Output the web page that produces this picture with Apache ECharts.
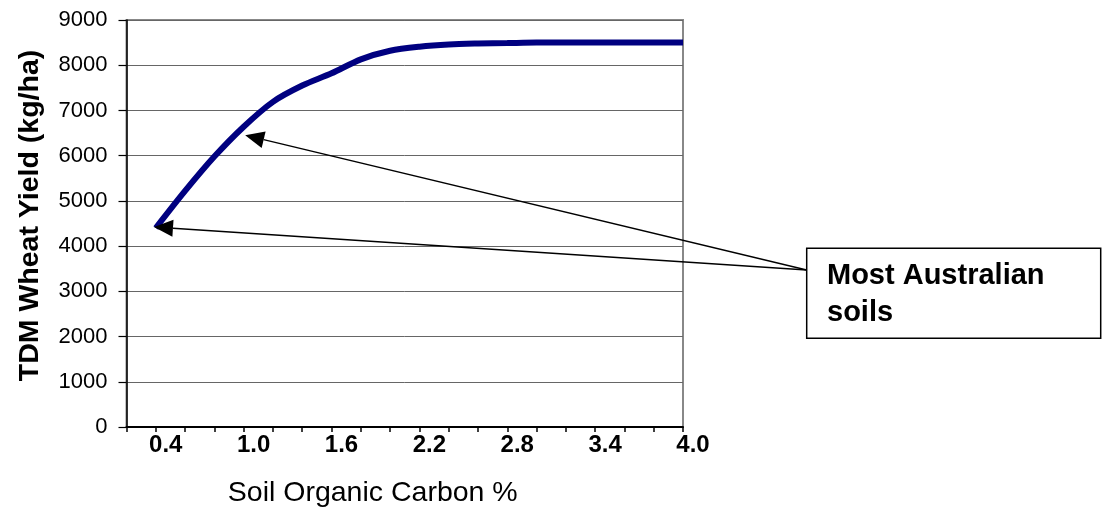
<!DOCTYPE html>
<html><head><meta charset="utf-8">
<script src="https://cdn.jsdelivr.net/npm/echarts@6/dist/echarts.min.js"></script>
<style>html,body{margin:0;padding:0;background:#fff}#c{width:1102px;height:511px}</style>
</head><body><div id="c"></div>
<script>
// ---- data ----
const carbonCategories = ['0.2','0.4','0.6','0.8','1.0','1.2','1.4','1.6','1.8','2.0','2.2','2.4','2.6','2.8','3.0','3.2','3.4','3.6','3.8','4.0'];
const wheatYield = [null,4400,5220,5980,6640,7190,7550,7820,8130,8320,8410,8460,8480,8490,8500,8500,8500,8500,8500,8500];
const yMin = 0, yMax = 9000, yStep = 1000;
const xAxisTitle = 'Soil Organic Carbon %';
const yAxisTitle = 'TDM Wheat Yield (kg/ha)';
const annotationLines = ['Most Australian', 'soils'];
const annotatedPoints = [['1.0', 6640], ['0.4', 4400]];

const FONT = "'Liberation Sans', Arial, sans-serif";
const chart = echarts.init(document.getElementById('c'), null, {renderer: 'canvas'});
chart.setOption({
  animation: false,
  backgroundColor: '#fff',
  textStyle: {fontFamily: FONT, color: '#000'},
  grid: {left: 126.5, right: 419, top: 20, bottom: 84, show: true, borderColor: '#888', borderWidth: 2, outerBoundsMode: 'none', containLabel: false},
  xAxis: {
    type: 'category', data: carbonCategories, boundaryGap: false,
    name: xAxisTitle, nameLocation: 'middle', nameGap: 52,
    nameTextStyle: {fontSize: 28.5, color: '#000', fontFamily: FONT, padding: [0, 64, 0, 0]},
    axisLine: {lineStyle: {color: '#000', width: 2}},
    axisTick: {show: true, interval: 0, length: 5, lineStyle: {color: '#000', width: 1.5}},
    axisLabel: {interval: function (i) { return i % 3 === 1; }, fontSize: 24, fontWeight: 'bold', color: '#000', margin: 6, padding: [0, 0, 0, 20], fontFamily: FONT},
    splitLine: {show: false}
  },
  yAxis: {
    type: 'value', min: yMin, max: yMax, interval: yStep,
    name: yAxisTitle, nameLocation: 'middle', nameGap: 82, nameRotate: 90,
    nameTextStyle: {fontSize: 28.5, fontWeight: 'bold', color: '#000', fontFamily: FONT, padding: [0, 0, 0, 16]},
    axisLine: {show: true, lineStyle: {color: '#000', width: 1.5}},
    axisTick: {show: true, length: 8, lineStyle: {color: '#000', width: 1.2}},
    axisLabel: {fontSize: 22, color: '#000', margin: 19, fontFamily: FONT, formatter: function (v) { return String(v); }},
    splitLine: {show: true, lineStyle: {color: '#666', width: 1}}
  },
  series: [{
    type: 'line', data: wheatYield, symbol: 'none', smooth: 0.3, connectNulls: false,
    lineStyle: {color: '#000080', width: 6, cap: 'butt'}
  }]
});

// ---- annotation: box + arrows pointing at data points ----
const boxX = 806.7, boxY = 248.3, boxW = 294, boxH = 90;
const origin = [boxX, 270];
const tipOffsets = [[1.5, 8.5], [-1.8, -1]];
const graphics = [];
annotatedPoints.forEach(function (p, k) {
  const px = chart.convertToPixel({gridIndex: 0}, p);
  const tip = [px[0] + tipOffsets[k][0], px[1] + tipOffsets[k][1]];
  const dx = tip[0] - origin[0], dy = tip[1] - origin[1];
  const len = Math.sqrt(dx * dx + dy * dy);
  const ux = dx / len, uy = dy / len;
  const headL = 19, headW = 8.5;
  const base = [tip[0] - ux * headL, tip[1] - uy * headL];
  const nx = -uy, ny = ux;
  graphics.push({type: 'line', shape: {x1: origin[0], y1: origin[1], x2: base[0], y2: base[1]}, style: {stroke: '#000', lineWidth: 1.4}, z: 100});
  graphics.push({type: 'polygon', shape: {points: [tip, [base[0] + nx * headW, base[1] + ny * headW], [base[0] - nx * headW, base[1] - ny * headW]]}, style: {fill: '#000'}, z: 101});
});
graphics.push({type: 'rect', shape: {x: boxX, y: boxY, width: boxW, height: boxH}, style: {fill: '#fff', stroke: '#000', lineWidth: 1.5}, z: 102});
graphics.push({type: 'text', x: 827, y: 258, style: {text: annotationLines.join('\n'), font: "bold 29px " + FONT, fill: '#000', lineHeight: 36.5, textVerticalAlign: 'top'}, z: 103});
chart.setOption({graphic: graphics});
</script>
</body></html>
